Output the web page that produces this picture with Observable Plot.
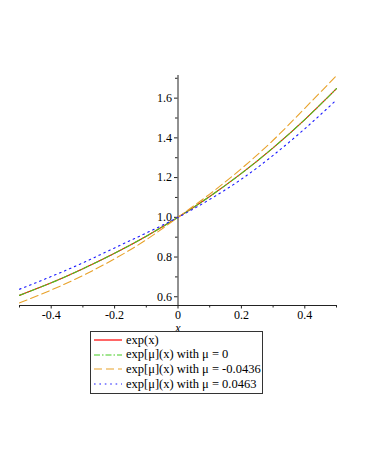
<!DOCTYPE html>
<html>
<head>
<meta charset="utf-8">
<script src="https://cdn.jsdelivr.net/npm/d3@7"></script>
<script src="https://cdn.jsdelivr.net/npm/@observablehq/plot@0.6"></script>
<style>
  body { margin: 0; background: #fff; font-family: "Liberation Serif", serif; }
  #wrap { position: relative; width: 366px; height: 473px; }
  #legend { position: absolute; left: 90px; top: 331px; width: 171px; border: 1px solid #333;
            font-family: "Liberation Serif", serif; font-size: 12.5px; color: #000; padding: 1px 0 2px 0; }
  .row { display: flex; align-items: center; height: 14.6px; }
  .row svg { margin-left: 3px; margin-right: 4px; flex: none; }
</style>
</head>
<body>
<div id="wrap"><div id="chart"></div><div id="legend"></div></div>
<script>
// x sample positions
const xs = [-0.5, -0.4, -0.3, -0.2, -0.1, 0, 0.1, 0.2, 0.3, 0.4, 0.5];
// exp(x)
const expVals = [0.607, 0.670, 0.741, 0.819, 0.905, 1.000, 1.105, 1.221, 1.350, 1.492, 1.648];
// exp[mu](x), mu = 0
const mu0Vals = [0.607, 0.670, 0.741, 0.819, 0.905, 1.000, 1.105, 1.221, 1.350, 1.492, 1.648];
// exp[mu](x), mu = -0.0436
const muNegVals = [0.569, 0.634, 0.707, 0.791, 0.887, 1.000, 1.117, 1.245, 1.388, 1.549, 1.713];
// exp[mu](x), mu = 0.0463
const muPosVals = [0.638, 0.702, 0.771, 0.846, 0.921, 1.000, 1.090, 1.192, 1.312, 1.446, 1.591];

const seriesNames = ["exp(x)", "exp[μ](x) with μ = 0", "exp[μ](x) with μ = -0.0436", "exp[μ](x) with μ = 0.0463"];
const seriesColors = ["#ff0000", "#44cc22", "#e8a22a", "#1a1aff"];
const seriesDash = [null, "6,2,1.5,2", "8,4", "1.6,3.8"];

const xMajor = [-0.4, -0.2, 0, 0.2, 0.4];
const xMinor = [-0.5, -0.3, -0.1, 0.1, 0.3, 0.5];
const yMajor = [0.6, 0.8, 1.0, 1.2, 1.4, 1.6];
const yMinor = [0.7, 0.9, 1.1, 1.3, 1.5, 1.7];
const xDomain = [-0.5, 0.5];
const yDomain = [0.556, 1.714];

const valueSets = [expVals, mu0Vals, muNegVals, muPosVals];
const series = valueSets.map((vals, k) => xs.map((x, i) => ({x, y: vals[i], s: seriesNames[k]})));

const fmt = d => d === 0 ? "0" : d.toFixed(1);
const axisColor = "#222";

const lineMarks = series.map((data, k) => Plot.line(data, {
  x: "x", y: "y", stroke: seriesColors[k], strokeWidth: 1.1,
  strokeDasharray: seriesDash[k], curve: "natural"
}));

const chart = Plot.plot({
  width: 366,
  height: 340,
  marginTop: 75,
  marginBottom: 35,
  marginLeft: 19,
  marginRight: 30,
  style: {fontFamily: "Liberation Serif, serif", fontSize: "12px", color: "#000", background: "#fff"},
  x: {domain: xDomain},
  y: {domain: yDomain, axis: null},
  marks: [
    Plot.axisX(xMajor, {tickSize: 3.5, tickPadding: 1, tickFormat: fmt, stroke: axisColor, fontSize: 12, label: null}),
    Plot.axisX(xMinor, {tickSize: 2.5, tickFormat: () => "", stroke: axisColor, label: null}),
    Plot.frame({anchor: "bottom", stroke: axisColor}),
    Plot.ruleX([0], {stroke: axisColor}),
    Plot.ruleY(yMajor, {y: d => d, x1: 0, x2: 0, insetLeft: -3.5, stroke: axisColor}),
    Plot.ruleY(yMinor.filter(v => v <= yDomain[1]), {y: d => d, x1: 0, x2: 0, insetLeft: -2.5, stroke: axisColor}),
    Plot.text(yMajor, {x: 0, y: d => d, text: fmt, textAnchor: "end", dx: -6, fontSize: 12, fill: "#000"}),
    ...lineMarks,
    Plot.text(["x"], {x: () => 0, frameAnchor: "bottom", dy: 26.5, text: d => d, fontStyle: "italic", fontSize: 12})
  ]
});
document.getElementById("chart").appendChild(chart);

// legend
const legend = document.getElementById("legend");
seriesNames.forEach((name, k) => {
  const row = document.createElement("div");
  row.className = "row";
  const dash = seriesDash[k] ? ` stroke-dasharray="${seriesDash[k]}"` : "";
  row.innerHTML = `<svg width="28" height="6"><line x1="0" y1="3" x2="28" y2="3" stroke="${seriesColors[k]}" stroke-width="1.2"${dash}/></svg><span>${name}</span>`;
  legend.appendChild(row);
});
</script>
</body>
</html>
